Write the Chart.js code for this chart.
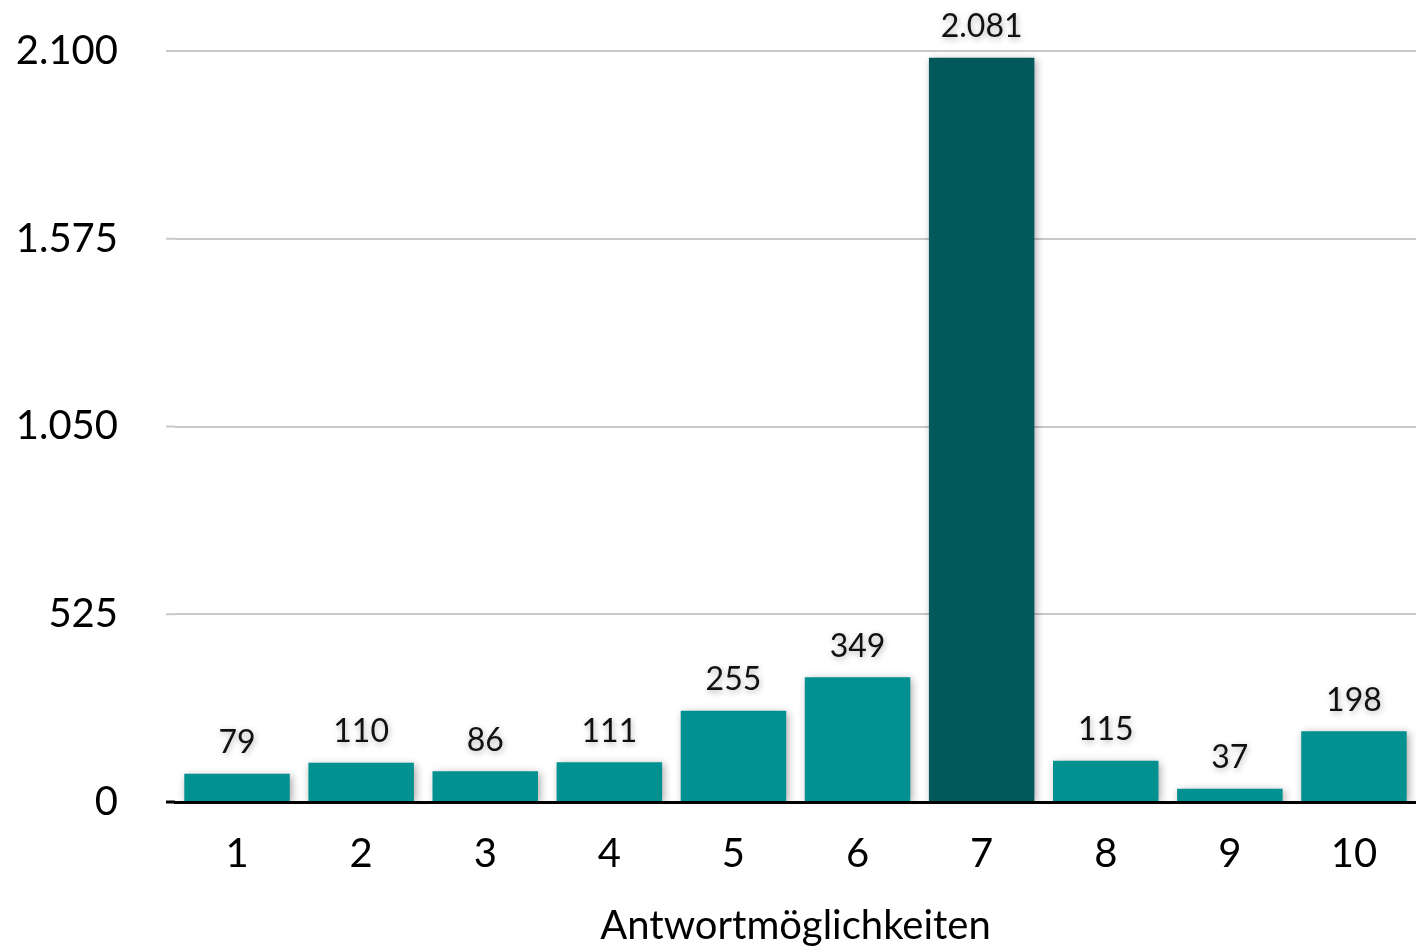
<!DOCTYPE html>
<html>
<head>
<meta charset="utf-8">
<script src="https://cdn.jsdelivr.net/npm/chart.js@4"></script>
<style>
  html, body { margin: 0; padding: 0; background: #fff; }
  #wrap { width: 1416px; height: 952px; }
</style>
</head>
<body>
<div id="wrap"><canvas id="myChart" width="1416" height="952"></canvas></div>
<script>
const categories = ['1', '2', '3', '4', '5', '6', '7', '8', '9', '10'];
const values = [79, 110, 86, 111, 255, 349, 2081, 115, 37, 198];
const barColors = ['#009190', '#009190', '#009190', '#009190', '#009190',
                   '#009190', '#02585A', '#009190', '#009190', '#009190'];
const yTicks = [0, 525, 1050, 1575, 2100];
const xTitle = 'Antwortmöglichkeiten';

const fontFam = 'Lato, "Noto Sans", sans-serif';
const fmt = v => v.toLocaleString('de-DE');

// soft shadow under the bars
const shadowPlugin = {
  id: 'barShadow',
  beforeDatasetsDraw(chart) {
    const ctx = chart.ctx;
    ctx.save();
    ctx.shadowColor = 'rgba(0,0,0,0.35)';
    ctx.shadowBlur = 8;
    ctx.shadowOffsetX = 2;
    ctx.shadowOffsetY = 2;
  },
  afterDatasetsDraw(chart) {
    chart.ctx.restore();
  }
};

// gridlines in the original start a bit left of the first bar slot
const gridExtend = {
  id: 'gridExtend',
  beforeDatasetsDraw(chart) {
    const ctx = chart.ctx;
    const y = chart.scales.y;
    const left = chart.chartArea.left;
    ctx.save();
    yTicks.forEach(v => {
      const py = y.getPixelForValue(v);
      ctx.beginPath();
      ctx.strokeStyle = v === 0 ? '#000' : '#c8c8c8';
      ctx.lineWidth = v === 0 ? 3 : 2;
      ctx.moveTo(left - 9, py);
      ctx.lineTo(left, py);
      ctx.stroke();
    });
    ctx.restore();
  }
};

// value labels above each bar
const labelPlugin = {
  id: 'valueLabels',
  afterDatasetsDraw(chart) {
    const ctx = chart.ctx;
    const meta = chart.getDatasetMeta(0);
    ctx.save();
    ctx.font = '32px ' + fontFam;
    ctx.fillStyle = '#111';
    ctx.textAlign = 'center';
    ctx.textBaseline = 'middle';
    ctx.shadowColor = 'rgba(0,0,0,0.3)';
    ctx.shadowBlur = 6;
    ctx.shadowOffsetX = 1;
    ctx.shadowOffsetY = 2;
    meta.data.forEach((bar, i) => {
      ctx.fillText(fmt(values[i]), bar.x, bar.y - 31);
    });
    ctx.restore();
  }
};

window.onload = function () {
  const data = {
    labels: categories,
    datasets: [{
      data: values,
      backgroundColor: barColors,
      borderWidth: 0,
      barPercentage: 0.85,
      categoryPercentage: 1.0
    }]
  };

  const config = {
    type: 'bar',
    data: data,
    plugins: [gridExtend, shadowPlugin, labelPlugin],
    options: {
      responsive: false,
      animation: false,
      locale: 'de-DE',
      layout: { padding: { top: 51, right: 0, bottom: 0, left: 0 } },
      plugins: {
        legend: { display: false },
        tooltip: { enabled: false }
      },
      scales: {
        x: {
          grid: { display: false, drawTicks: false },
          border: { display: true, color: '#000', width: 3 },
          ticks: { color: '#000', font: { family: fontFam, size: 40 }, padding: 28 },
          title: { display: true, text: xTitle, color: '#000',
                   font: { family: fontFam, size: 40, lineHeight: 1.0 }, padding: { top: 0, bottom: 6 } }
        },
        y: {
          min: 0,
          max: 2100,
          afterBuildTicks(scale) { scale.ticks = yTicks.map(v => ({ value: v })); },
          afterFit(scale) {
            scale.width = 175;
            scale.paddingTop = 0;
            scale.paddingBottom = 0;
          },
          grid: { color: '#c8c8c8', lineWidth: 2, drawTicks: false },
          border: { display: false },
          ticks: { color: '#000', font: { family: fontFam, size: 40 }, padding: 57,
                   callback: v => fmt(v) }
        }
      }
    }
  };

  new Chart(document.getElementById('myChart'), config);
};
</script>
</body>
</html>
